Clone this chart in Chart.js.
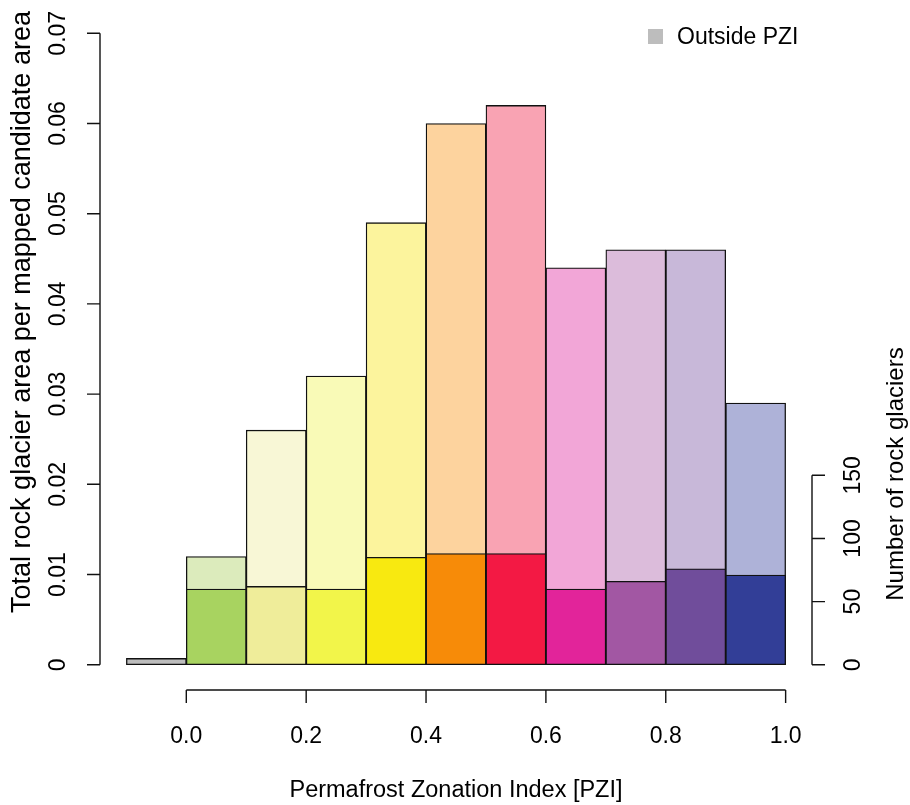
<!DOCTYPE html>
<html>
<head>
<meta charset="utf-8">
<script src="https://cdn.jsdelivr.net/npm/chart.js@4/dist/chart.umd.min.js"></script>
<style>
  html, body { margin: 0; padding: 0; background: #fff; }
  #wrap { width: 910px; height: 805px; }
</style>
</head>
<body>
<div id="wrap"><canvas id="pziChart" width="910" height="805"></canvas></div>
<script>
// PZI bins (left edge of each 0.1 wide bin, first one is "outside PZI")
const binStarts = [-0.1, 0.0, 0.1, 0.2, 0.3, 0.4, 0.5, 0.6, 0.7, 0.8, 0.9];
const binWidth = 0.1;

// total rock glacier area per mapped candidate area (left axis)
const areaRatio = [null, 0.012, 0.026, 0.032, 0.049, 0.060, 0.062, 0.044, 0.046, 0.046, 0.029];
// number of rock glaciers (right axis)
const glacierCount = [5, 60, 62, 60, 85, 88, 88, 60, 66, 76, 71];

const areaColors = ['#bdbdbd', '#dcebbc', '#f8f7d6', '#f9fab7', '#fcf49d', '#fdd39e',
                    '#f9a3b3', '#f2a6d7', '#dcbcdb', '#c8b8d9', '#aeb2d8'];
const countColors = ['#bdbdbd', '#a8d360', '#efed9a', '#f2f54a', '#f8e910', '#f78b08',
                     '#f31944', '#e2249a', '#a257a3', '#704d9b', '#323e97'];

const areaTicks = [0, 0.01, 0.02, 0.03, 0.04, 0.05, 0.06, 0.07];
const areaTickLabels = ['0', '0.01', '0.02', '0.03', '0.04', '0.05', '0.06', '0.07'];
const countTicks = [0, 50, 100, 150];
const pziTicks = [0, 0.2, 0.4, 0.6, 0.8, 1.0];
const pziTickLabels = ['0.0', '0.2', '0.4', '0.6', '0.8', '1.0'];

const legendLabel = 'Outside PZI';
const xTitle = 'Permafrost Zonation Index [PZI]';
const yTitle = 'Total rock glacier area per mapped candidate area';
const y2Title = 'Number of rock glaciers';

// R-like axis ranges (4% padding)
const xMin = -0.144, xMax = 1.044;
const yMin = -0.0028, yMax = 0.0728;
const areaPerCount = 0.07 / 500;

const FAMILY = '"Liberation Sans", Arial, sans-serif';
const INK = '#111';

function points(values) {
    return values.map((v, i) => ({ x: binStarts[i] + binWidth / 2, y: v }));
}

function rotatedText(ctx, text, x, y) {
    ctx.save();
    ctx.translate(x, y);
    ctx.rotate(-Math.PI / 2);
    ctx.fillText(text, 0, 0);
    ctx.restore();
}

const rAxes = {
    id: 'rAxes',
    afterDraw(chart) {
        const ctx = chart.ctx;
        const area = chart.chartArea;
        const sx = chart.scales.x, sy = chart.scales.y, sy2 = chart.scales.y2;
        const tick = 13;
        ctx.save();
        ctx.strokeStyle = INK;
        ctx.fillStyle = '#000';
        ctx.lineWidth = 1.4;
        ctx.font = '23px ' + FAMILY;
        ctx.textAlign = 'center';
        ctx.textBaseline = 'alphabetic';

        // left axis
        const lx = area.left;
        ctx.beginPath();
        ctx.moveTo(lx, sy.getPixelForValue(areaTicks[0]));
        ctx.lineTo(lx, sy.getPixelForValue(areaTicks[areaTicks.length - 1]));
        areaTicks.forEach(t => {
            const py = sy.getPixelForValue(t);
            ctx.moveTo(lx, py);
            ctx.lineTo(lx - tick, py);
        });
        ctx.stroke();
        areaTicks.forEach((t, i) => rotatedText(ctx, areaTickLabels[i], 65, sy.getPixelForValue(t)));

        // right axis (counts)
        const rx = area.right;
        ctx.beginPath();
        ctx.moveTo(rx, sy2.getPixelForValue(countTicks[0]));
        ctx.lineTo(rx, sy2.getPixelForValue(countTicks[countTicks.length - 1]));
        countTicks.forEach(t => {
            const py = sy2.getPixelForValue(t);
            ctx.moveTo(rx, py);
            ctx.lineTo(rx + tick, py);
        });
        ctx.stroke();
        countTicks.forEach(t => rotatedText(ctx, String(t), 860, sy2.getPixelForValue(t)));

        // bottom axis
        const by = area.bottom;
        ctx.beginPath();
        ctx.moveTo(sx.getPixelForValue(pziTicks[0]), by);
        ctx.lineTo(sx.getPixelForValue(pziTicks[pziTicks.length - 1]), by);
        pziTicks.forEach(t => {
            const px = sx.getPixelForValue(t);
            ctx.moveTo(px, by);
            ctx.lineTo(px, by + tick);
        });
        ctx.stroke();
        pziTicks.forEach((t, i) => ctx.fillText(pziTickLabels[i], sx.getPixelForValue(t), 743));

        // titles
        ctx.font = '24px ' + FAMILY;
        rotatedText(ctx, y2Title, 903, 474);
        ctx.font = '23.5px ' + FAMILY;
        ctx.fillText(xTitle, (area.left + area.right) / 2, 797);
        ctx.font = '27px ' + FAMILY;
        rotatedText(ctx, yTitle, 30, 312);

        // legend
        ctx.font = '23px ' + FAMILY;
        ctx.fillStyle = countColors[0];
        ctx.fillRect(648, 29, 15, 15);
        ctx.fillStyle = '#000';
        ctx.textAlign = 'left';
        ctx.fillText(legendLabel, 677, 44);
        ctx.restore();
    }
};

const barStyle = {
    borderColor: INK,
    borderWidth: 1.3,
    borderSkipped: false,
    grouped: false,
    barPercentage: 1,
    categoryPercentage: 1
};

new Chart(document.getElementById('pziChart'), {
    type: 'bar',
    data: {
        datasets: [
            Object.assign({
                label: 'Number of rock glaciers',
                data: points(glacierCount),
                yAxisID: 'y2',
                backgroundColor: countColors,
                order: 0
            }, barStyle),
            Object.assign({
                label: 'Area ratio',
                data: points(areaRatio),
                yAxisID: 'y',
                backgroundColor: areaColors,
                order: 1
            }, barStyle)
        ]
    },
    options: {
        responsive: false,
        animation: false,
        events: [],
        layout: { padding: { left: 100, right: 98, top: 8, bottom: 115 } },
        plugins: { legend: { display: false }, tooltip: { enabled: false } },
        scales: {
            x: {
                type: 'linear', display: false, offset: false,
                min: xMin, max: xMax, bounds: 'data',
                afterBuildTicks: scale => { scale.ticks = binStarts.map(v => ({ value: v })); }
            },
            y: { display: false, min: yMin, max: yMax },
            y2: { display: false, min: yMin / areaPerCount, max: yMax / areaPerCount }
        }
    },
    plugins: [rAxes]
});
</script>
</body>
</html>
